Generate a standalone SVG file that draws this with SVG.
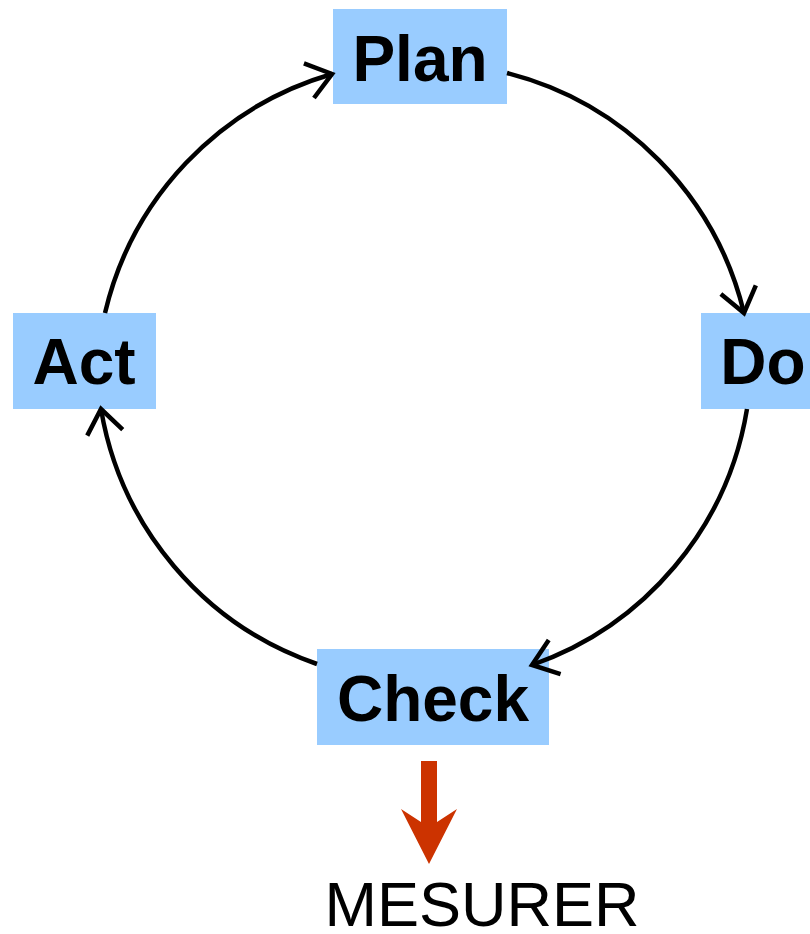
<svg xmlns="http://www.w3.org/2000/svg" width="810" height="934" viewBox="0 0 810 934">
<style>
.box{fill:#99CCFF}
.lbl{font-family:"Liberation Sans",Arial,sans-serif;font-weight:bold;font-size:64px;fill:#000;text-anchor:middle}
.con{fill:none;stroke:#000;stroke-width:4.5;marker-end:url(#ah)}
</style>
<defs>
<marker id="ah" markerUnits="userSpaceOnUse" markerWidth="40" markerHeight="40" refX="0" refY="0" viewBox="-30 -20 40 40" orient="auto" overflow="visible">
<path d="M-24,-18 L0,0 L-24,18" fill="none" stroke="#000" stroke-width="4.5"/>
</marker>
</defs>
<rect width="810" height="934" fill="#fff"/>
<g id="plan"><rect class="box" x="333" y="9" width="174" height="95"/><text class="lbl" x="420" y="81">Plan</text></g>
<g id="do"><rect class="box" x="701" y="313" width="120" height="96"/><text class="lbl" x="763" y="384">Do</text></g>
<g id="check"><rect class="box" x="317" y="649" width="232" height="96"/><text class="lbl" x="433" y="721">Check</text></g>
<g id="act"><rect class="box" x="13" y="313" width="143" height="96"/><text class="lbl" x="84" y="384">Act</text></g>
<g id="connectors">
<path class="con" d="M105,313 A327,327 0 0 1 332,74"/>
<path class="con" d="M507,73 A327,327 0 0 1 744,313"/>
<path class="con" d="M747,409 A327,327 0 0 1 532,665"/>
<path class="con" d="M317,664 A327,327 0 0 1 101,409"/>
</g>
<g id="mesurer">
<polygon points="421,761 437,761 437,822 457,809 429,864 401,809 421,822" fill="#CC3300"/>
<text x="482" y="926" font-family="Liberation Sans, Arial, sans-serif" font-size="63" fill="#000" text-anchor="middle">MESURER</text>
</g>
</svg>
